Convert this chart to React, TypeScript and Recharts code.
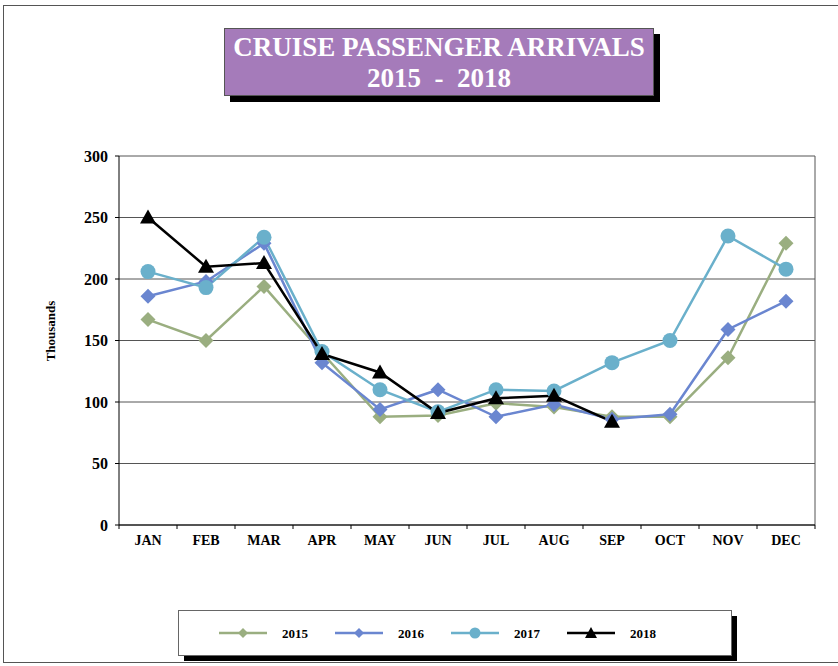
import React from 'react';
import { LineChart, Line, XAxis, YAxis, CartesianGrid } from 'recharts';

const months = ['JAN', 'FEB', 'MAR', 'APR', 'MAY', 'JUN', 'JUL', 'AUG', 'SEP', 'OCT', 'NOV', 'DEC'];
const y2015 = [167, 150, 194, 140, 88, 89, 99, 96, 88, 88, 136, 229];
const y2016 = [186, 198, 229, 132, 94, 110, 88, 98, 86, 90, 159, 182];
const y2017 = [206, 193, 234, 141, 110, 92, 110, 109, 132, 150, 235, 208];
const y2018: (number | null)[] = [250, 210, 213, 139, 124, 91, 103, 105, 84, null, null, null];
const yTicks = [0, 50, 100, 150, 200, 250, 300];

const C15 = '#9aae80';
const C16 = '#6a86d0';
const C17 = '#6ab0cb';
const C18 = '#000000';

const data = months.map((m, i) => ({ m, a: y2015[i], b: y2016[i], c: y2017[i], d: y2018[i] }));

const FONT = '"Liberation Serif", "Times New Roman", serif';
const HALF = 29;

const Diamond = (color: string) => (p: any) => {
  const { cx, cy, index } = p;
  if (cx == null || cy == null || p.value == null) return <g key={index} />;
  const s = 7.5;
  return <polygon key={index} points={`${cx},${cy - s} ${cx + s},${cy} ${cx},${cy + s} ${cx - s},${cy}`} fill={color} />;
};
const Circle = (color: string) => (p: any) => {
  const { cx, cy, index } = p;
  if (cx == null || cy == null || p.value == null) return <g key={index} />;
  return <circle key={index} cx={cx} cy={cy} r={7.5} fill={color} />;
};
const Tri = (color: string) => (p: any) => {
  const { cx, cy, index } = p;
  if (cx == null || cy == null || p.value == null) return <g key={index} />;
  return <polygon key={index} points={`${cx},${cy - 8} ${cx + 8},${cy + 6} ${cx - 8},${cy + 6}`} fill={color} />;
};

const XTick = (p: any) => {
  const { x, y, payload, index } = p;
  const top = 525;
  return (
    <g>
      <line x1={x - HALF} x2={x - HALF} y1={top} y2={top + 4} stroke="#000" />
      {index === months.length - 1 && <line x1={x + HALF} x2={x + HALF} y1={top} y2={top + 4} stroke="#000" />}
      <text x={x} y={545} textAnchor="middle" fontFamily={FONT} fontWeight="bold" fontSize={14} fill="#000">{payload.value}</text>
    </g>
  );
};

const legendItems = [
  { label: '2015', color: C15, shape: 'diamond' },
  { label: '2016', color: C16, shape: 'diamond' },
  { label: '2017', color: C17, shape: 'circle' },
  { label: '2018', color: C18, shape: 'tri' },
];

export default function App() {
  return (
    <div style={{ position: 'absolute', left: 0, top: 0, width: 838, height: 666, background: '#fff', fontFamily: FONT, overflow: 'hidden' }}>
      <div style={{ position: 'absolute', left: 3, top: 5, width: 840, height: 658, border: '1px solid #555', boxSizing: 'border-box' }} />
      <div style={{ position: 'absolute', left: 230, top: 34, width: 430, height: 68, background: '#000' }} />
      <div style={{ position: 'absolute', left: 224, top: 28, width: 430, height: 68, background: '#a57bba', border: '1px solid #555', boxSizing: 'border-box', color: '#fff', fontWeight: 'bold', fontSize: 27, textAlign: 'center', lineHeight: '31px', paddingTop: 3 }}>
        <div>CRUISE PASSENGER ARRIVALS</div>
        <div>2015&nbsp;&nbsp;-&nbsp;&nbsp;2018</div>
      </div>
      <div style={{ position: 'absolute', left: 0, top: 0 }}>
        <LineChart width={838} height={666} data={data} margin={{ top: 156, right: 23, bottom: 111, left: 59 }}>
          <CartesianGrid vertical={true} horizontal={true} stroke="#555" strokeWidth={1}
            verticalCoordinatesGenerator={(props: any) => [props.offset.left + props.offset.width]} />
          <XAxis dataKey="m" axisLine={{ stroke: '#000' }} tickLine={false} height={30} padding={{ left: HALF, right: HALF }}
            tick={XTick} interval={0} />
          <YAxis domain={[0, 300]} ticks={yTicks} width={60} axisLine={{ stroke: '#000' }} tickLine={{ stroke: '#000' }} tickSize={4}
            tick={{ fill: '#000', fontSize: 16, fontWeight: 'bold', fontFamily: FONT, dx: -5 }} interval={0} />
          <Line dataKey="a" stroke={C15} strokeWidth={2.5} dot={Diamond(C15)} isAnimationActive={false} />
          <Line dataKey="b" stroke={C16} strokeWidth={2.5} dot={Diamond(C16)} isAnimationActive={false} />
          <Line dataKey="c" stroke={C17} strokeWidth={2.5} dot={Circle(C17)} isAnimationActive={false} />
          <Line dataKey="d" stroke={C18} strokeWidth={2.5} dot={Tri(C18)} isAnimationActive={false} connectNulls={false} />
        </LineChart>
      </div>
      <svg style={{ position: 'absolute', left: 0, top: 0 }} width={838} height={666}>
        <text x={50} y={331} transform="rotate(-90 50 331)" textAnchor="middle" dominantBaseline="central" fontFamily={FONT} fontWeight="bold" fontSize={13} fill="#000">Thousands</text>
        <rect x={184} y={616} width={553} height={45} fill="#000" />
        <rect x={178.5} y={610.5} width={553} height={45} fill="#fff" stroke="#666" />
        {legendItems.map((it, i) => {
          const x0 = 219 + i * 116;
          const cx = x0 + 24;
          const cy = 633;
          return (
            <g key={it.label}>
              <line x1={x0} x2={x0 + 48} y1={cy} y2={cy} stroke={it.color} strokeWidth={2.5} />
              {it.shape === 'diamond' && <polygon points={`${cx},${cy - 5} ${cx + 5},${cy} ${cx},${cy + 5} ${cx - 5},${cy}`} fill={it.color} />}
              {it.shape === 'circle' && <circle cx={cx} cy={cy} r={5.5} fill={it.color} />}
              {it.shape === 'tri' && <polygon points={`${cx},${cy - 6} ${cx + 6},${cy + 5} ${cx - 6},${cy + 5}`} fill={it.color} />}
              <text x={x0 + 63} y={cy + 5} fontFamily={FONT} fontWeight="bold" fontSize={13} fill="#000">{it.label}</text>
            </g>
          );
        })}
      </svg>
    </div>
  );
}
